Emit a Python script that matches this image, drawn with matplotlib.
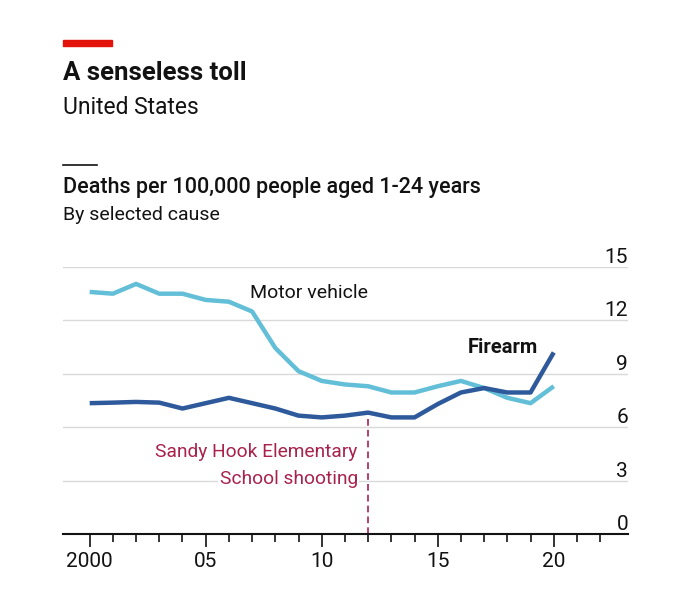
import numpy as np
import matplotlib
matplotlib.use("Agg")
import matplotlib.pyplot as plt
import matplotlib.transforms as mtransforms

plt.rcParams['font.family'] = ['Roboto', 'DejaVu Sans']

# data
years = list(range(2000, 2021))
motor_vehicle = [13.6, 13.5, 14.05, 13.5, 13.5, 13.15, 13.05, 12.5, 10.45, 9.15, 8.6,
                 8.4, 8.3, 7.95, 7.95, 8.3, 8.6, 8.2, 7.65, 7.35, 8.3]
firearm = [7.35, 7.38, 7.42, 7.38, 7.05, 7.35, 7.65, 7.35, 7.05, 6.65, 6.55,
           6.65, 6.82, 6.55, 6.55, 7.3, 7.95, 8.2, 7.95, 7.95, 10.2]
yticks = [0, 3, 6, 9, 12, 15]
xticks = [2000, 2005, 2010, 2015, 2020]
xticklabels = ["2000", "05", "10", "15", "20"]
event_year = 2012
event_lines = ["Sandy Hook Elementary", "School shooting"]

light_blue = "#62BFD7"
dark_blue = "#2E5A9C"
crimson = "#A8224C"
ink = "#121212"

fig = plt.figure(figsize=(6.8, 6.08), dpi=100)
ax = fig.add_axes([63/680, 1 - 534/608, (628-63)/680, (534-267)/608])

ax.set_xlim(1998.85, 2023.2)
ax.set_ylim(0, 15)

for y in yticks[1:]:
    ax.axhline(y, color="#d9d9d9", lw=1, zorder=0)
ax.set_yticks([])

ax.plot(years, motor_vehicle, color=light_blue, lw=3.2, solid_capstyle="butt", zorder=3)
ax.plot(years, firearm, color=dark_blue, lw=3.2, solid_capstyle="butt", zorder=4)

# event marker
ev_val = firearm[years.index(event_year)]
ax.plot([event_year, event_year], [0, ev_val + 0.1], color=crimson, lw=1.2,
        ls=(0, (4, 2.5)), zorder=2)
ax.text(event_year - 0.45, 4.6, event_lines[0], ha="right", va="center", color=crimson,
        fontsize=13.8, zorder=5)
ax.text(event_year - 0.45, 3.1, event_lines[1], ha="right", va="center", color=crimson,
        fontsize=13.8, zorder=5,
        bbox=dict(facecolor="white", edgecolor="none", pad=1))

ax.text(2006.9, 13.55, "Motor vehicle", ha="left", va="center", color=ink, fontsize=14, zorder=5)
ax.text(2019.3, 10.45, "Firearm", ha="right", va="center", color=ink, fontsize=14.5,
        fontweight="bold", zorder=5)

# y labels sit on the right end above the gridlines
trans = mtransforms.blended_transform_factory(ax.transAxes, ax.transData)
for y in yticks:
    ax.text(1.0, y, str(y), transform=trans, ha="right", va="bottom",
            fontsize=15, color=ink)

for s in ["top", "right", "left"]:
    ax.spines[s].set_visible(False)
ax.spines["bottom"].set_linewidth(1.5)
ax.spines["bottom"].set_color(ink)
ax.set_xticks(xticks)
ax.set_xticklabels(xticklabels, fontsize=15, color=ink)
ax.set_xticks(years + [2021, 2022], minor=True)
ax.tick_params(axis="x", which="major", length=9, width=1.2, color=ink, pad=4)
ax.tick_params(axis="x", which="minor", length=6, width=1.2, color=ink)

# header
fig.patches.append(plt.Rectangle((63/680, 1 - 46/608), 49/680, 6/608,
                                 transform=fig.transFigure, color="#E3120B"))
fig.text(63/680, 1 - 73/608, "A senseless toll", fontsize=18.5, fontweight="bold",
         va="center", ha="left", color=ink)
fig.text(63/680, 1 - 107/608, "United States", fontsize=16.5, va="center", ha="left", color=ink)
fig.add_artist(plt.Line2D([63/680, 97/680], [1 - 165/608, 1 - 165/608],
                          transform=fig.transFigure, color=ink, lw=1.2))
fig.text(63/680, 1 - 188/608, "Deaths per 100,000 people aged 1-24 years", fontsize=15.5,
         fontweight="medium", va="center", ha="left", color=ink)
fig.text(63/680, 1 - 215/608, "By selected cause", fontsize=14, va="center", ha="left", color=ink)

fig.savefig("out.png", dpi=100)
